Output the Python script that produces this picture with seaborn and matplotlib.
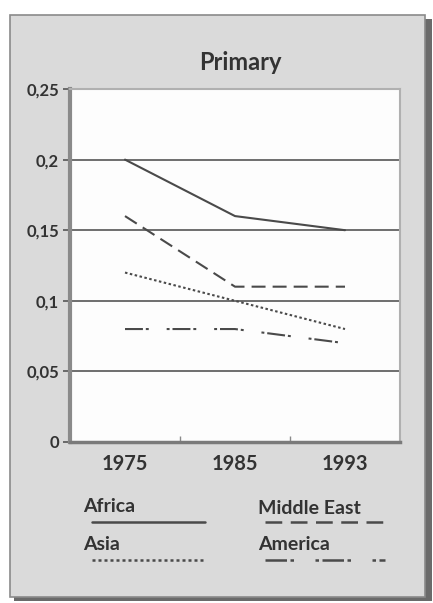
import matplotlib
matplotlib.use("Agg")
import matplotlib.pyplot as plt
from matplotlib.patches import Rectangle
import seaborn as sns
import pandas as pd

years = ["1975", "1985", "1993"]
regions = ["Africa", "Middle East", "Asia", "America"]
africa = [0.20, 0.16, 0.15]
middle_east = [0.16, 0.11, 0.11]
asia = [0.12, 0.10, 0.08]
america = [0.08, 0.08, 0.07]
yticks = [0, 0.05, 0.10, 0.15, 0.20, 0.25]
ytick_labels = ["0", "0,05", "0,1", "0,15", "0,2", "0,25"]
title = "Primary"

series = {"Africa": africa, "Middle East": middle_east, "Asia": asia, "America": america}
rows = []
for r in regions:
    for i, (y, v) in enumerate(zip(years, series[r])):
        rows.append({"pos": i, "year": y, "region": r, "value": v})
df = pd.DataFrame(rows)

dashes = {
    "Africa": "",
    "Middle East": (6.7, 3.4),
    "Asia": (1.2, 1.2),
    "America": (8.6, 1.4, 1.4, 8.6, 1.4, 1.4),
}

sns.set_style("white")
plt.rcParams["font.family"] = ["Lato", "DejaVu Sans"]

W, H = 433, 603
fig = plt.figure(figsize=(W / 100, H / 100), dpi=100)
fig.patch.set_facecolor("white")

def fx(x):
    return x / W

def fy(y):
    return 1 - y / H

# panel shadow and panel
fig.patches.append(Rectangle((fx(14), fy(601)), fx(418), (601 - 19) / H,
                             transform=fig.transFigure, facecolor="#6a6a6a",
                             edgecolor="none", zorder=0))
fig.patches.append(Rectangle((fx(10), fy(597)), fx(415), (597 - 15) / H,
                             transform=fig.transFigure, facecolor="#dadada",
                             edgecolor="#8a8a8a", linewidth=1.2, zorder=0.5))

ax = fig.add_axes([fx(70), fy(442), fx(400) - fx(70), (442 - 89) / H])
ax.set_facecolor("#fdfdfd")
ax.set_zorder(2)

line_color = "#4a4a4a"
sns.lineplot(data=df, x="pos", y="value", style="region", style_order=regions,
             dashes=dashes, color=line_color, linewidth=1.5, ax=ax, legend=False,
             zorder=3)

ax.set_xlim(-0.5, 2.5)
ax.set_ylim(0, 0.25)
ax.set_yticks(yticks)
ax.set_yticklabels(ytick_labels)
ax.set_xticks(range(len(years)))
ax.set_xticklabels(years)
ax.set_xticks([0.5, 1.5], minor=True)
ax.set_xlabel("")
ax.set_ylabel("")

for y in yticks[1:-1]:
    ax.axhline(y, color="#555555", linewidth=1.2, zorder=1)

for s in ["top", "right"]:
    ax.spines[s].set_color("#b0b0b0")
    ax.spines[s].set_linewidth(1.5)
ax.spines["left"].set_color("#8a8a8a")
ax.spines["left"].set_linewidth(3)
ax.spines["bottom"].set_color("#7a7a7a")
ax.spines["bottom"].set_linewidth(2.5)

ax.tick_params(axis="y", which="major", length=5, width=1.2, color="#555555",
               labelsize=12, labelcolor="#333333", pad=3, left=True)
ax.tick_params(axis="x", which="major", length=0, labelsize=14.5,
               labelcolor="#333333", pad=9, bottom=True)
ax.tick_params(axis="x", which="minor", length=4, width=1, color="#8a8a8a",
               direction="in", bottom=True)
for t in ax.get_yticklabels() + ax.get_xticklabels():
    t.set_fontweight("bold")

fig.text(fx(240), fy(62), title, ha="center", va="center", fontsize=17,
         color="#333333", fontweight="bold")

# manual legend: label above a line sample
lax = fig.add_axes([0, 0, 1, 1], facecolor="none")
lax.set_zorder(3)
lax.set_xlim(0, W)
lax.set_ylim(H, 0)
lax.axis("off")
legend_pos = {
    "Africa": (83, 92, 205, 507, 522),
    "Asia": (83, 92, 205, 545, 560),
    "Middle East": (258, 265, 385, 508, 522),
    "America": (258, 265, 385, 545, 560),
}
for r in regions:
    tx, x0, x1, ty, ly = legend_pos[r]
    lax.text(tx, ty, r, ha="left", va="center", fontsize=14, color="#333333",
             fontweight="bold")
    d = dashes[r]
    ln, = lax.plot([x0, x1], [ly, ly], color=line_color, linewidth=1.8)
    if d:
        ln.set_dashes(d)

fig.savefig("out.png", dpi=100, facecolor="white")
